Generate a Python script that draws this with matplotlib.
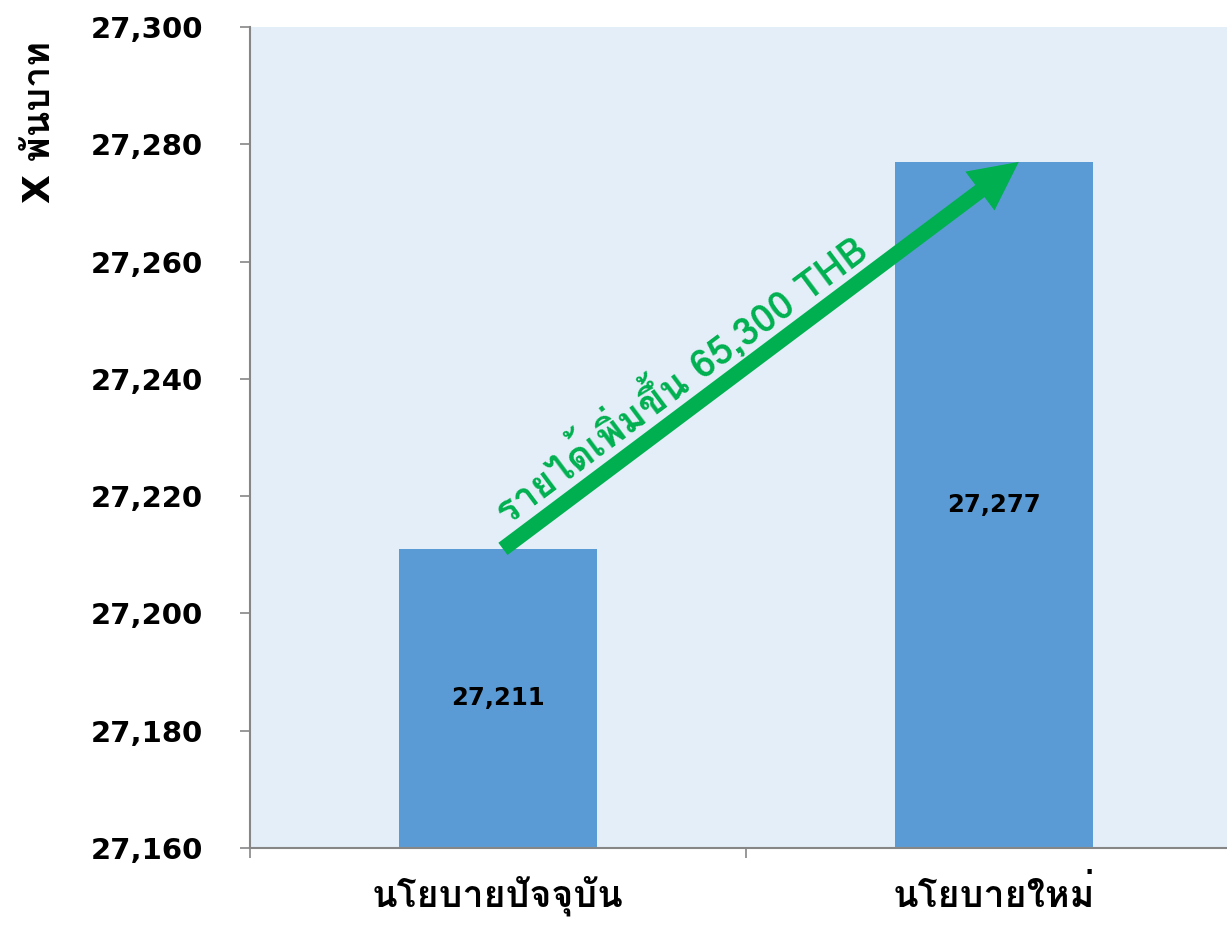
import matplotlib
matplotlib.use("Agg")
import matplotlib.pyplot as plt
from matplotlib import font_manager
from fontTools.ttLib import TTFont

## ข้อมูล
categories = ["นโยบายปัจจุบัน", "นโยบายใหม่"]
values = [27211, 27277]
value_labels = ["27,211", "27,277"]
y_ticks = [27160, 27180, 27200, 27220, 27240, 27260, 27280, 27300]
y_label = "X พันบาท"
arrow_text = "รายได้เพิ่มขึ้น 65,300 THB"


def find_thai_font():
    """ หาฟอนต์ที่มีตัวอักษรไทย """
    for f in font_manager.fontManager.ttflist:
        try:
            cmap = TTFont(f.fname, fontNumber=0, lazy=True).getBestCmap()
        except Exception:
            continue
        if cmap and 0x0E19 in cmap:
            return f.name
    return "DejaVu Sans"


thai = find_thai_font()
fonts = [thai, "DejaVu Sans"]
fonts_latin = ["DejaVu Sans", thai]

green = "#00B050"
bar_color = "#5B9BD5"
axis_gray = "#868686"

fig = plt.figure(figsize=(12.27, 9.31), dpi=100)
ax = fig.add_axes([250 / 1227, 83 / 931, 992 / 1227, 821 / 931])
ax.set_facecolor("#E4EEF8")

x = [0, 1]
bottom = y_ticks[0]
ax.bar(x, [v - bottom for v in values], bottom=bottom, width=0.4, color=bar_color, zorder=2)

ax.set_xlim(-0.5, 1.5)
ax.set_ylim(y_ticks[0], y_ticks[-1])
ax.set_yticks(y_ticks)
ax.set_yticklabels([f"{t:,}" for t in y_ticks], fontsize=21, fontweight="bold", family="DejaVu Sans")
ax.tick_params(axis="y", length=7, width=1.2, color=axis_gray, pad=27)

# เส้นแบ่งหมวดหมู่ และชื่อหมวดหมู่
ax.set_xticks([-0.5, 0.5, 1.5])
ax.set_xticklabels([])
ax.tick_params(axis="x", which="major", length=7, width=1.2, color=axis_gray)
ax.set_xticks(x, minor=True)
ax.set_xticklabels(categories, minor=True, fontsize=27, fontweight="bold", family=fonts)
ax.tick_params(axis="x", which="minor", length=0, pad=20)

for s in ["top", "right"]:
    ax.spines[s].set_visible(False)
for s in ["left", "bottom"]:
    ax.spines[s].set_color(axis_gray)
    ax.spines[s].set_linewidth(1.5)

# ตัวเลขในแท่ง
for xi, v, lab in zip(x, values, value_labels):
    ax.text(xi, (bottom + v) / 2, lab, ha="center", va="center",
            fontsize=17.5, fontweight="bold", family="DejaVu Sans", zorder=3)

# ลูกศรรายได้เพิ่มขึ้น
ax.annotate("", xy=(1.05, values[1]), xytext=(0.01, values[0]),
            arrowprops=dict(arrowstyle="simple,head_length=3.5,head_width=3.5,tail_width=1.1",
                            lw=0, color=green, mutation_scale=10,
                            shrinkA=0, shrinkB=0), zorder=4)
ax.text(0.367, 27240, arrow_text, rotation=36.7, rotation_mode="anchor",
        ha="center", va="center", fontsize=28, fontweight="bold",
        color=green, family=fonts, zorder=4)

fig.text(40 / 1227, 1 - 122 / 931, y_label, rotation=90, ha="center", va="center",
         fontsize=27, fontweight="bold", family=fonts_latin)

fig.savefig("out.png", dpi=100)
